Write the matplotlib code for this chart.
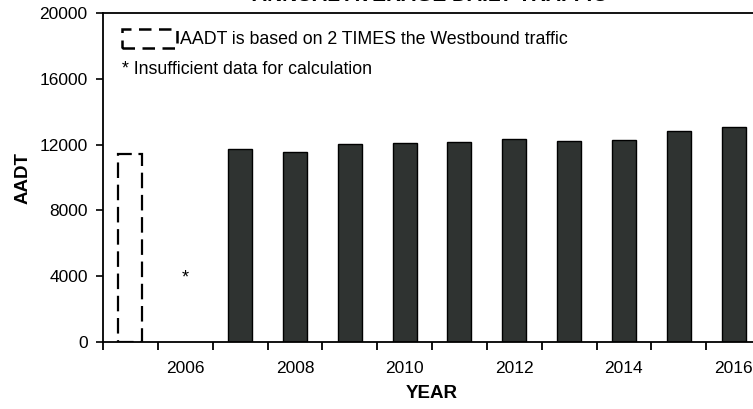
import matplotlib
matplotlib.use("Agg")
import matplotlib.pyplot as plt
import numpy as np
from matplotlib.patches import Rectangle

plt.rcParams['font.family'] = ['Liberation Sans', 'DejaVu Sans']

years = [2005, 2006, 2007, 2008, 2009, 2010, 2011, 2012, 2013, 2014, 2015, 2016]
aadt = [11400, None, 11750, 11550, 12050, 12120, 12160, 12320, 12230, 12250, 12850, 13050]
doubled_wb = [True, False, False, False, False, False, False, False, False, False, False, False]
insufficient = [False, True, False, False, False, False, False, False, False, False, False, False]
year_labels = ['2006', '2008', '2010', '2012', '2014', '2016']

W, H = 753, 409
fig = plt.figure(figsize=(W / 100, H / 100), dpi=100)
x0, x1, y0, y1 = 103, 761, 342, 13
ax = fig.add_axes([x0 / W, (H - y0) / H, (x1 - x0) / W, (y0 - y1) / H])

bw = 0.44
for i, v in enumerate(aadt):
    if v is None:
        continue
    if doubled_wb[i]:
        ax.bar(i, v, width=bw, fill=False, edgecolor='black', linewidth=1.6,
               linestyle=(0, (7, 3)))
    else:
        ax.bar(i, v, width=bw, color='#2f3331', edgecolor='black', linewidth=1.0)
for i, flag in enumerate(insufficient):
    if flag:
        ax.text(i, 3900, '*', ha='center', va='center', fontsize=13)

ax.set_xlim(-0.5, len(years) - 0.5)
ax.set_ylim(0, 20000)
ax.set_yticks(np.arange(0, 20001, 4000))
ax.tick_params(axis='y', direction='out', length=5, width=1.2, labelsize=12.5, pad=6)

label_pos = [years.index(int(s)) for s in year_labels]
ax.set_xticks(label_pos)
ax.set_xticklabels(year_labels)
ax.set_xticks(np.arange(-0.5, len(years), 1.0), minor=True)
ax.tick_params(axis='x', which='major', length=0, labelsize=12.5, pad=14)
ax.tick_params(axis='x', which='minor', direction='out', length=6, width=1.3)

for s in ['left', 'bottom', 'top']:
    ax.spines[s].set_linewidth(1.3)
ax.spines['right'].set_visible(False)

ax.set_xlabel('YEAR', fontsize=13.5, fontweight='bold', labelpad=6)
ax.set_ylabel('AADT', fontsize=13.5, fontweight='bold', labelpad=6)

# legend-like notes
ax.add_patch(Rectangle((122, 361), 55, 19, transform=None, fill=False,
                       edgecolor='black', linewidth=1.8, linestyle=(0, (5, 3))))
fig.text(180 / W, 1 - 44 / H, 'AADT is based on 2 TIMES the Westbound traffic',
         fontsize=12.8, va='baseline', ha='left')
fig.text(122 / W, 1 - 74 / H, '* Insufficient data for calculation',
         fontsize=12.8, va='baseline', ha='left')

fig.text(430 / W, 1 - 5 / H, 'ANNUAL AVERAGE DAILY TRAFFIC', fontsize=15,
         fontweight='bold', ha='center', va='bottom')

fig.savefig('out.png', dpi=100)
